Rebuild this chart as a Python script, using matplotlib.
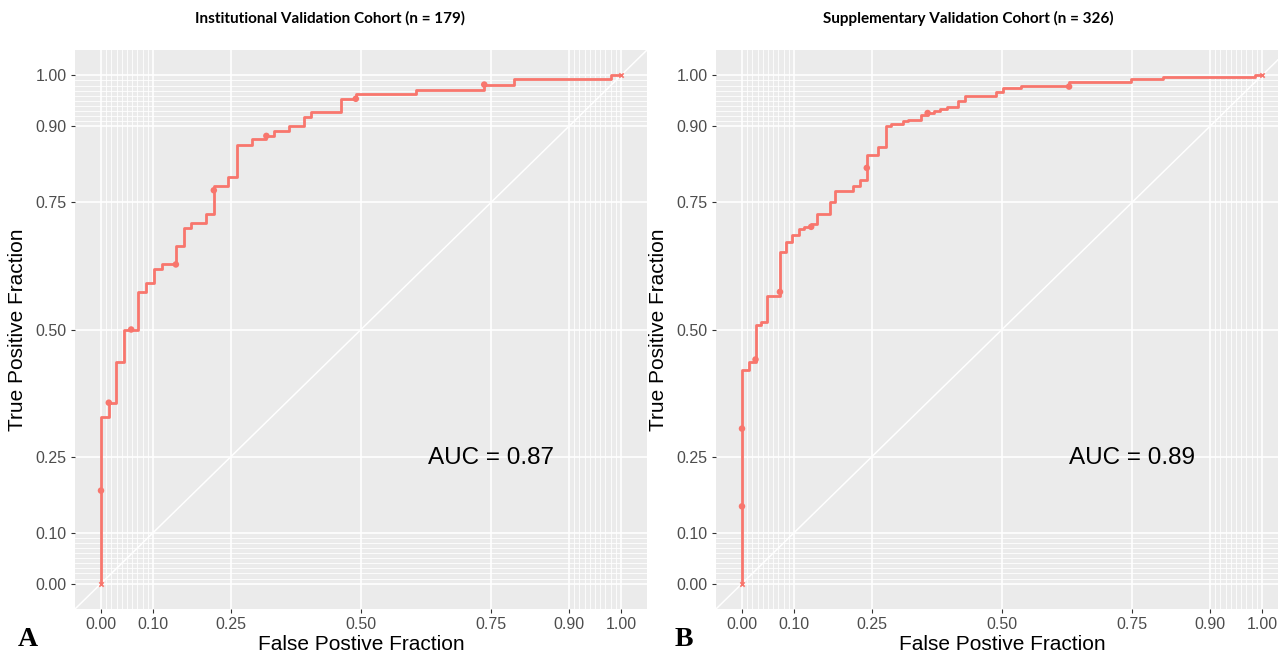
import numpy as np
import matplotlib.pyplot as plt

# ROC step levels (tpr of each horizontal run) and x where each run ends
fpr_a = [0.0, 0.015, 0.029, 0.045, 0.072, 0.087, 0.102, 0.117, 0.144, 0.159, 0.174, 0.202, 0.217,
         0.245, 0.261, 0.290, 0.318, 0.332, 0.362, 0.390, 0.404, 0.462, 0.490, 0.606, 0.737,
         0.795, 0.981, 1.000]
tpr_a = [0.0, 0.328, 0.356, 0.437, 0.500, 0.573, 0.591, 0.619, 0.628, 0.664, 0.700, 0.710, 0.728,
         0.782, 0.800, 0.864, 0.874, 0.881, 0.891, 0.900, 0.918, 0.928, 0.954, 0.964, 0.972,
         0.982, 0.992, 1.000]
pts_fpr_a = [0.0, 0.015, 0.058, 0.144, 0.217, 0.318, 0.490, 0.737]
pts_tpr_a = [0.183, 0.356, 0.500, 0.628, 0.774, 0.881, 0.954, 0.982]

fpr_b = [0.0, 0.013, 0.026, 0.037, 0.049, 0.073, 0.085, 0.097, 0.109, 0.120, 0.133, 0.144, 0.169,
         0.179, 0.214, 0.227, 0.240, 0.262, 0.276, 0.286, 0.310, 0.320, 0.345, 0.357, 0.369,
         0.381, 0.394, 0.416, 0.429, 0.488, 0.501, 0.537, 0.629, 0.749, 0.809, 0.987, 1.000]
tpr_b = [0.0, 0.420, 0.437, 0.508, 0.515, 0.566, 0.653, 0.673, 0.686, 0.697, 0.702, 0.707, 0.727,
         0.751, 0.773, 0.782, 0.794, 0.843, 0.860, 0.900, 0.905, 0.910, 0.913, 0.922, 0.926,
         0.929, 0.933, 0.938, 0.950, 0.959, 0.967, 0.975, 0.980, 0.987, 0.992, 0.996, 1.000]
pts_fpr_b = [0.0, 0.0, 0.026, 0.073, 0.133, 0.240, 0.357, 0.629]
pts_tpr_b = [0.152, 0.305, 0.441, 0.574, 0.702, 0.818, 0.926, 0.978]

# end points (0,0) and (1,1) drawn as small marks
end_fpr = [0.0, 1.0]
end_tpr = [0.0, 1.0]

breaks = [0, 0.1, 0.25, 0.5, 0.75, 0.9, 1]
break_labels = ['0.00', '0.10', '0.25', '0.50', '0.75', '0.90', '1.00']
minor = [i / 100 for i in range(1, 10)] + [i / 100 for i in range(91, 100)]

panels = [
    ("Institutional Validation Cohort (n = 179)", fpr_a, tpr_a, pts_fpr_a, pts_tpr_a, "AUC = 0.87", "A"),
    ("Supplementary Validation Cohort (n = 326)", fpr_b, tpr_b, pts_fpr_b, pts_tpr_b, "AUC = 0.89", "B"),
]

W, H = 1278, 655
fig = plt.figure(figsize=(W / 100, H / 100), dpi=100)
plt.rcParams['font.family'] = ['Liberation Sans', 'DejaVu Sans']

lefts = [75, 716]
title_x = [330, 968]
letter_x = [28, 684]
curve_col = '#F8766D'

for k, (title, fx, ty, px, py, auc, letter) in enumerate(panels):
    ax = fig.add_axes([lefts[k] / W, 1 - 609 / H, 572 / W, 559 / H])
    ax.set_facecolor('#EBEBEB')
    for s in ax.spines.values():
        s.set_visible(False)
    ax.set_xlim(-0.05, 1.05)
    ax.set_ylim(-0.05, 1.05)

    for m in minor:
        ax.axvline(m, color='white', lw=0.6, zorder=0)
        ax.axhline(m, color='white', lw=0.6, zorder=0)
    for b in breaks:
        ax.axvline(b, color='white', lw=1.2, zorder=0)
        ax.axhline(b, color='white', lw=1.2, zorder=0)
    ax.axline((0, 0), slope=1, color='white', lw=1.1, zorder=1)

    ax.plot(fx, ty, drawstyle='steps-pre', color=curve_col, lw=2.0, zorder=3)
    ax.scatter(px, py, color=curve_col, s=22, zorder=4, edgecolors='none')
    ax.scatter(end_fpr, end_tpr, color=curve_col, s=10, zorder=4, marker='x', linewidths=1.2)

    ax.text(0.75, 0.247, auc, fontsize=17.5, ha='center', va='center', color='black')

    ax.set_xticks(breaks)
    ax.set_xticklabels(break_labels)
    ax.set_yticks(breaks)
    ax.set_yticklabels(break_labels)
    ax.tick_params(colors='#333333', labelcolor='#4D4D4D', labelsize=11.5, length=3, width=0.8, pad=3)
    ax.set_xlabel("False Postive Fraction", fontsize=15, labelpad=2)
    ax.set_ylabel("True Positive Fraction", fontsize=15, labelpad=6)

    fig.text(title_x[k] / W, 1 - 18 / H, title, fontsize=11, fontweight='bold',
             family=['Lato', 'DejaVu Sans'], ha='center', va='center')
    fig.text(letter_x[k] / W, 1 - 640 / H, letter, fontsize=20, fontweight='bold',
             family=['Liberation Serif', 'DejaVu Serif'], ha='center', va='center')

fig.savefig('out.png', dpi=100, facecolor='white')
